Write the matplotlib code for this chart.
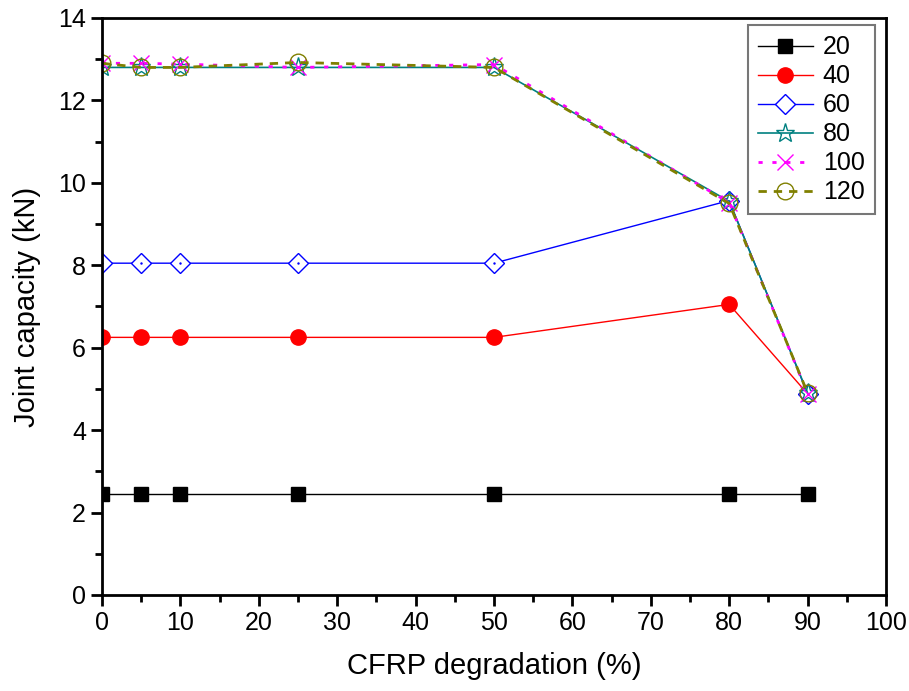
import matplotlib
matplotlib.use("Agg")
import matplotlib.pyplot as plt
from matplotlib.ticker import MultipleLocator

plt.rcParams['font.family'] = ['Liberation Sans', 'DejaVu Sans']

degradation = [0, 5, 10, 25, 50, 80, 90]
cap_20 = [2.45, 2.45, 2.45, 2.45, 2.45, 2.45, 2.45]
cap_40 = [6.25, 6.25, 6.25, 6.25, 6.25, 7.05, 4.88]
cap_60 = [8.05, 8.05, 8.05, 8.05, 8.05, 9.57, 4.88]
cap_80 = [12.8, 12.8, 12.8, 12.8, 12.8, 9.55, 4.9]
cap_100 = [12.9, 12.9, 12.88, 12.8, 12.87, 9.52, 4.88]
cap_120 = [12.9, 12.8, 12.8, 12.92, 12.8, 9.5, 4.9]
labels = ["20", "40", "60", "80", "100", "120"]

fig = plt.figure(figsize=(9.09, 6.91), dpi=100)
ax = fig.add_axes([0.1122, 0.139, 0.8625, 0.835])

ax.plot(degradation, cap_20, color='black', lw=1, marker='s', ms=10,
        mfc='black', mec='black', label=labels[0])
ax.plot(degradation, cap_40, color='red', lw=1, marker='o', ms=11,
        mfc='red', mec='red', label=labels[1])
ax.plot(degradation, cap_60, color='blue', lw=1, marker='D', ms=10,
        mfc='white', mec='blue', mew=1, label=labels[2])
ax.plot(degradation, cap_60, ls='none', marker='.', ms=1.5, color='blue')
ax.plot(degradation, cap_80, color='#008080', lw=1.2, marker='*', ms=14,
        mfc='none', mec='#008080', mew=1, label=labels[3])
ax.plot(degradation, cap_100, color='#FF00FF', lw=2, ls=(0, (1.5, 3.5)),
        marker='x', ms=12, mec='#FF00FF', mew=1, label=labels[4])
ax.plot(degradation, cap_120, color='#808000', lw=2, ls=(0, (3, 2.5)),
        marker='o', ms=12, mfc='none', mec='#808000', mew=1, label=labels[5])

ax.set_xlim(0, 100)
ax.set_ylim(0, 14)
ax.xaxis.set_major_locator(MultipleLocator(10))
ax.xaxis.set_minor_locator(MultipleLocator(5))
ax.yaxis.set_major_locator(MultipleLocator(2))
ax.yaxis.set_minor_locator(MultipleLocator(1))
ax.tick_params(which='both', direction='out', width=2, labelsize=18,
               top=False, right=False)
ax.tick_params(which='major', length=8)
ax.tick_params(which='minor', length=5)
for s in ax.spines.values():
    s.set_linewidth(2)

ax.set_xlabel("CFRP degradation (%)", fontsize=21, labelpad=12)
ax.set_ylabel("Joint capacity (kN)", fontsize=21, labelpad=12)

leg = ax.legend(loc='upper right', fontsize=18, frameon=True, fancybox=False,
                edgecolor='#555555', handlelength=2.2, handletextpad=0.4,
                labelspacing=0.2, borderpad=0.4, borderaxespad=0.3,
                bbox_to_anchor=(0.995, 1.0))
leg.get_frame().set_linewidth(1.5)

fig.savefig("out.png", dpi=100)
